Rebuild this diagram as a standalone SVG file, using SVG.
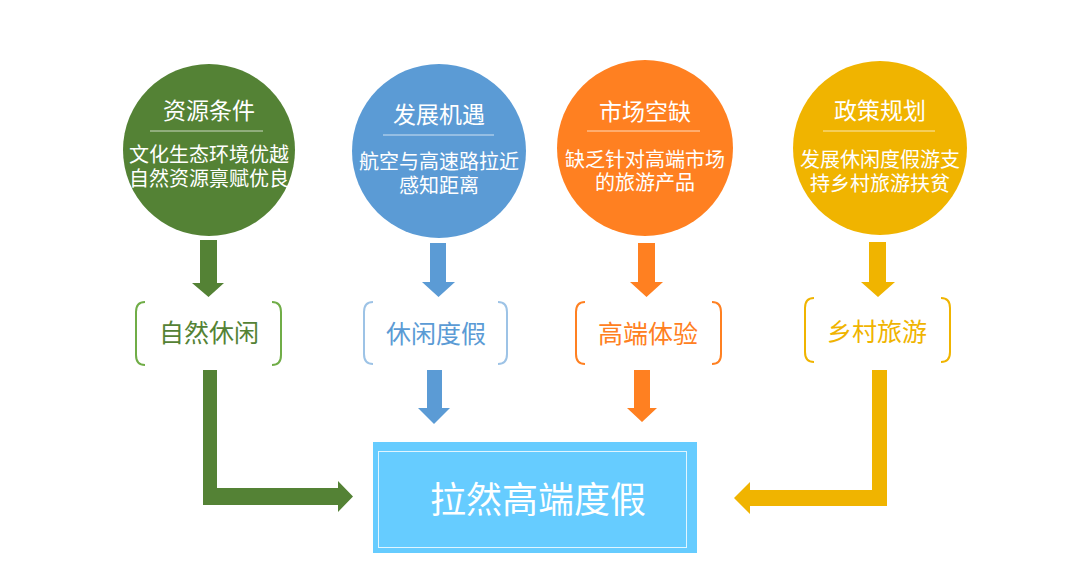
<svg xmlns="http://www.w3.org/2000/svg" width="1080" height="574" viewBox="0 0 1080 574">
<style>
.t{font-family:"Liberation Serif","Noto Sans CJK SC",serif;fill:#fff;text-anchor:middle}
.h{font-size:23px}
.b{font-size:20px}
.lbl{font-family:"Noto Sans CJK SC",sans-serif;font-size:25px;text-anchor:middle}
.br{fill:none;stroke-width:2}
.sep{stroke:#fff;stroke-opacity:0.7;stroke-width:1}
</style>
<rect width="1080" height="574" fill="#fff"/>
<g id="n-resource">
<circle cx="209" cy="150" r="86" fill="#548235"/>
<text class="t h" x="209" y="119">资源条件</text>
<line class="sep" x1="150" y1="131" x2="263" y2="131"/>
<text class="t b" x="209" y="162" font-size="19">文化生态环境优越</text>
<text class="t b" x="209" y="186" font-size="19">自然资源禀赋优良</text>
</g>
<g id="n-develop">
<circle cx="439" cy="151" r="87" fill="#5B9BD5"/>
<text class="t h" x="439" y="123">发展机遇</text>
<line class="sep" x1="383" y1="135" x2="494" y2="135"/>
<text class="t b" x="439" y="169">航空与高速路拉近</text>
<text class="t b" x="439" y="193">感知距离</text>
</g>
<g id="n-market">
<circle cx="645" cy="148" r="88" fill="#FF8021"/>
<text class="t h" x="645" y="120">市场空缺</text>
<line class="sep" x1="587" y1="131" x2="700" y2="131"/>
<text class="t b" x="645" y="167">缺乏针对高端市场</text>
<text class="t b" x="645" y="190">的旅游产品</text>
</g>
<g id="n-policy">
<circle cx="880" cy="148" r="87" fill="#F0B400"/>
<text class="t h" x="880" y="119">政策规划</text>
<line class="sep" x1="823" y1="131" x2="935" y2="131"/>
<text class="t b" x="880" y="167">发展休闲度假游支</text>
<text class="t b" x="880" y="191">持乡村旅游扶贫</text>
</g>
<g id="n-leisure">
<path class="br" stroke="#70AD47" d="M145,302 Q136,302 136,312 V355 Q136,365 145,365 M272,302 Q281,302 281,312 V355 Q281,365 272,365"/>
<text class="lbl" x="209" y="342" fill="#548235">自然休闲</text>
</g>
<g id="n-vacation">
<path class="br" stroke="#9DC3E6" stroke-width="1" d="M373,302 Q364,302 364,312 V354 Q364,364 373,364 M498,302 Q507,302 507,312 V354 Q507,364 498,364"/>
<text class="lbl" x="436" y="343" fill="#5B9BD5">休闲度假</text>
</g>
<g id="n-highend">
<path class="br" stroke="#FF8021" d="M585,302 Q576,302 576,312 V354 Q576,364 585,364 M712,302 Q721,302 721,312 V354 Q721,364 712,364"/>
<text class="lbl" x="648" y="343" fill="#FF8021">高端体验</text>
</g>
<g id="n-rural">
<path class="br" stroke="#F0B400" d="M814,298 Q805,298 805,308 V352 Q805,362 814,362 M941,298 Q950,298 950,308 V352 Q950,362 941,362"/>
<text class="lbl" x="877" y="341" fill="#F0B400">乡村旅游</text>
</g>
<g id="n-target">
<rect x="373" y="442" width="324" height="111" fill="#66CCFF"/>
<rect x="378.5" y="451.5" width="308" height="96" fill="none" stroke="#fff" stroke-opacity="0.8" stroke-width="1"/>
<text x="538" y="513" font-family="Liberation Serif,Noto Sans CJK SC,serif" font-size="36" fill="#fff" text-anchor="middle">拉然高端度假</text>
</g>
<g id="connectors">
<polygon fill="#548235" points="200,240 217,240 217,283 224,283 208.5,297 192,283 200,283"/>
<polygon fill="#5B9BD5" points="430,243 446,243 446,282 455,282 438.5,297 422,282 430,282"/>
<polygon fill="#FF8021" points="638,243 655,243 655,282 663,282 646.5,297 630,282 638,282"/>
<polygon fill="#F0B400" points="869,242 886,242 886,282 895,282 878,297 861,282 869,282"/>
<polygon fill="#548235" points="203,370 217,370 217,488 338,488 338,481 353,496.5 338,512 338,505 203,505"/>
<polygon fill="#5B9BD5" points="427,370 442,370 442,408 450,408 434,424 418,408 427,408"/>
<polygon fill="#FF8021" points="634,370 650,370 650,408 657,408 642,422 627,408 634,408"/>
<polygon fill="#F0B400" points="872,370 887,370 887,506 750,506 750,514 734,498 750,482 750,490 872,490"/>
</g>
</svg>
